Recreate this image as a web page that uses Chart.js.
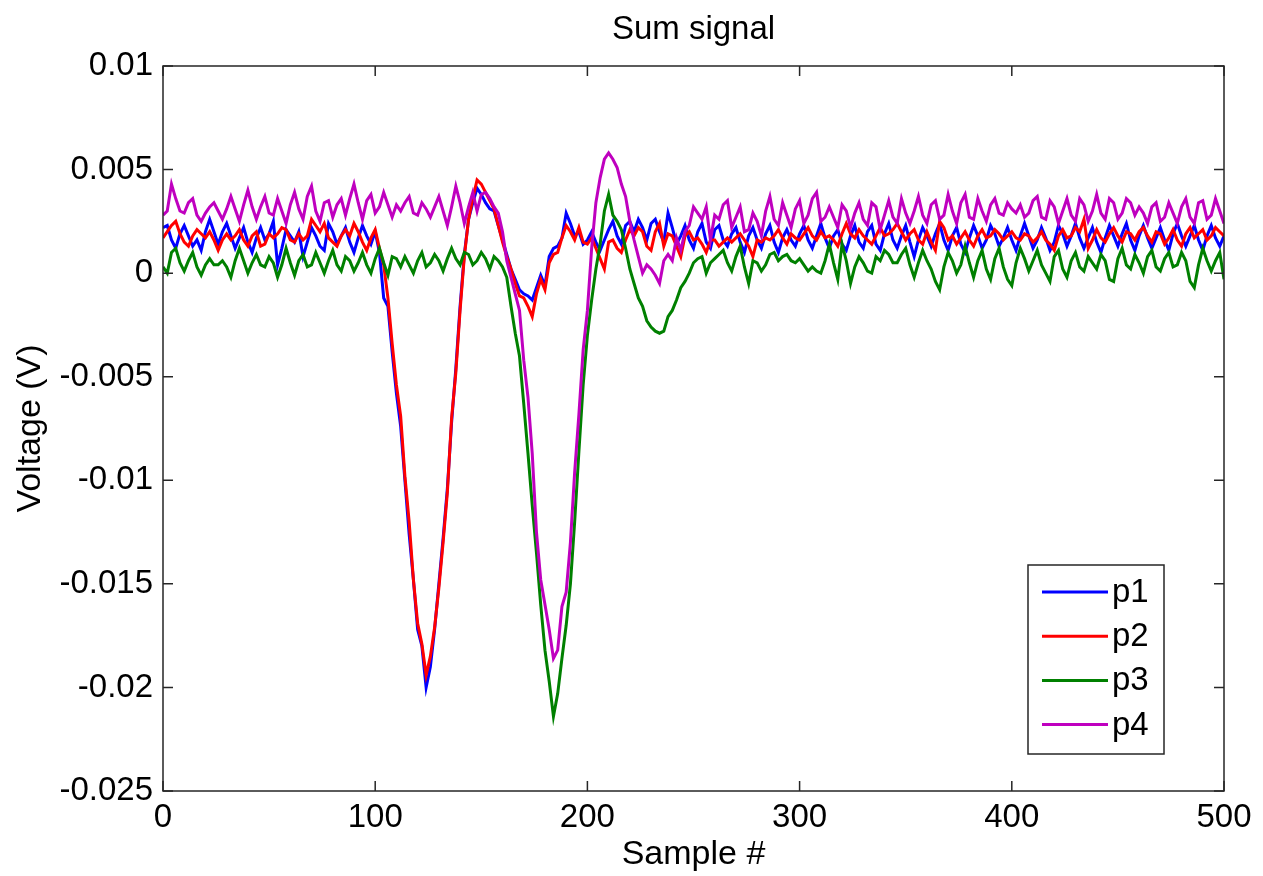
<!DOCTYPE html>
<html><head><meta charset="utf-8">
<script src="https://cdn.jsdelivr.net/npm/chart.js@4.4.1/dist/chart.umd.min.js"></script>
<style>html,body{margin:0;padding:0;background:#fff}canvas{display:block}</style>
</head><body>
<canvas id="c" width="1263" height="876"></canvas>
<script>
// Sample spacing of the value arrays below (one value every 2 samples, samples 0..500)
const sampleStep = 2;
const xTickValues = [0, 100, 200, 300, 400, 500];
const yTickLabels = ['-0.025', '-0.02', '-0.015', '-0.01', '-0.005', '0', '0.005', '0.01'];
const seriesNames = ['p1', 'p2', 'p3', 'p4'];
const seriesColors = ['#0000ff', '#ff0000', '#008000', '#bf00bf'];

// values in millivolts
const p1 = [
  2.2, 2.3, 1.6, 1.2, 1.9, 2.3, 1.8, 1.3, 1.6, 1.1,
  2.0, 2.6, 2.0, 1.4, 2.0, 2.4, 1.8, 1.2, 1.7, 2.2,
  1.5, 1.0, 1.7, 2.2, 1.6, 1.9, 2.5, 0.4, 1.2, 2.1,
  1.8, 1.5, 2.0, 0.8, 1.5, 2.2, 1.8, 1.3, 1.1, 2.4,
  2.0, 1.4, 1.8, 2.2, 1.5, 1.0, 1.7, 2.3, 1.8, 1.4,
  2.0, 1.0, -1.2, -1.6, -3.8, -5.8, -7.4, -10.0, -12.6, -14.8,
  -17.2, -18.0, -20.0, -19.0, -17.2, -15.0, -12.8, -10.4, -7.2, -4.6,
  -1.6, 0.9, 2.6, 3.4, 4.1, 3.8, 3.4, 3.1, 3.0, 2.3,
  1.6, 0.9, 0.2, -0.3, -0.8, -1.0, -1.1, -1.3, -0.7, -0.1,
  -0.6, 0.8, 1.2, 1.3, 1.7, 2.9, 2.4, 1.8, 2.0, 1.4,
  1.6, 2.0, 1.5, 1.1, 1.6, 2.1, 2.5, 1.8, 1.4, 2.3,
  2.5, 2.0, 2.6, 2.2, 1.6, 2.4, 2.6, 2.0, 1.5, 2.9,
  2.2, 1.4, 1.8, 2.3, 1.6, 1.2, 2.0, 2.4, 1.5, 1.2,
  2.1, 2.3, 1.6, 1.3, 1.9, 2.2, 1.5, 1.0, 1.8, 2.2,
  1.6, 1.2, 1.9, 2.3, 1.5, 1.0, 1.7, 2.1, 1.6, 1.3,
  1.9, 2.3, 1.6, 1.2, 1.8, 2.4, 1.7, 1.2, 1.8, 2.1,
  1.4, 1.1, 1.8, 2.3, 1.5, 1.2, 2.0, 2.3, 1.4, 1.1,
  1.9, 2.4, 1.6, 1.2, 1.8, 2.3, 1.5, 0.8, 1.6, 2.2,
  1.8, 1.3, 1.9, 2.4, 1.6, 1.1, 1.8, 2.2, 1.4, 1.0,
  1.7, 2.3, 1.8, 1.2, 1.6, 2.3, 1.9, 1.3, 1.7, 2.2,
  1.6, 1.1, 1.8, 2.4, 1.8, 1.2, 1.6, 2.2, 1.7, 1.1,
  1.5, 2.3, 1.9, 1.3, 1.8, 2.4, 1.7, 1.2, 1.7, 2.2,
  1.5, 1.0, 1.7, 2.3, 1.8, 1.3, 1.9, 2.4, 1.6, 1.1,
  1.8, 2.3, 1.7, 1.2, 1.7, 2.2, 1.6, 1.1, 1.9, 2.4,
  1.8, 1.3, 1.8, 2.3, 1.6, 1.1, 1.8, 2.3, 1.7, 1.3,
  1.8
];
const p2 = [
  1.7, 2.0, 2.3, 2.5, 1.9, 1.5, 1.3, 1.8, 2.1, 1.9,
  1.7, 2.0, 1.6, 1.1, 1.6, 1.9, 1.6, 1.8, 2.1, 1.6,
  1.3, 1.8, 2.0, 1.3, 1.4, 1.9, 1.7, 1.9, 2.2, 2.1,
  1.6, 1.5, 1.9, 1.6, 1.8, 2.6, 2.3, 2.0, 2.4, 1.7,
  1.5, 1.3, 1.8, 2.1, 1.8, 2.4, 2.0, 1.5, 1.1, 1.7,
  2.1, 1.2, 0.4, -1.2, -3.4, -5.4, -6.9, -9.8, -12.0, -14.8,
  -16.9, -17.9, -19.4, -18.5, -17.1, -15.2, -13.0, -10.6, -7.0, -4.8,
  -1.8, 0.8, 2.6, 3.6, 4.5, 4.3, 3.9, 3.5, 3.1, 2.3,
  1.5, 0.8, 0.2, -0.5, -1.1, -1.2, -1.6, -2.1, -1.0, -0.3,
  -0.8, 0.5, 0.9, 1.0, 1.7, 2.3, 2.0, 1.6, 2.2, 1.5,
  1.4, 1.7, 1.2, 0.7, 0.2, 1.5, 1.6, 1.2, 1.0, 1.6,
  2.1, 1.8, 2.2, 2.0, 1.3, 1.1, 2.0, 2.4, 1.3, 1.9,
  1.8, 1.3, 0.8, 1.8, 2.0, 1.6, 1.7, 1.4, 1.0, 1.6,
  1.6, 1.3, 1.5, 1.7, 1.5, 1.7, 1.9, 1.6, 1.3, 0.8,
  1.6, 1.5, 1.7, 1.6, 1.8, 2.1, 1.7, 1.4, 1.9, 1.7,
  1.6, 1.9, 2.2, 1.8, 1.6, 2.0, 1.7, 1.8, 1.6, 1.3,
  1.9, 2.4, 1.9, 1.7, 2.1, 1.8, 1.6, 1.4, 1.8, 2.2,
  1.8, 1.9, 2.1, 2.4, 2.0, 1.6, 1.9, 2.1, 1.6, 1.4,
  2.0, 1.5, 1.1, 2.5, 2.2, 1.6, 1.8, 1.4, 1.7, 2.0,
  1.6, 1.3, 1.8, 2.1, 1.7, 1.8, 2.1, 1.9, 1.6, 1.8,
  2.0, 1.7, 1.6, 1.9, 1.8, 1.5, 1.7, 2.0, 1.6, 1.4,
  1.1, 1.8, 2.1, 1.7, 1.8, 2.2, 2.0, 2.6, 1.2, 1.6,
  2.1, 1.7, 1.5, 1.9, 2.2, 1.8, 1.5, 2.0, 1.9, 1.6,
  2.0, 2.2, 1.8, 1.5, 2.0, 1.9, 1.4, 1.7, 2.1, 1.6,
  1.3, 1.9, 2.2, 1.7, 1.9, 2.1, 1.6, 1.8, 2.2, 2.0,
  1.8
];
const p3 = [
  0.3, 0.0, 1.0, 1.2, 0.5, 0.1, 0.6, 1.0, 0.3, -0.1,
  0.4, 0.7, 0.4, 0.4, 0.6, 0.3, -0.2, 0.6, 1.2, 0.6,
  0.0, 0.5, 0.9, 0.4, 0.3, 0.8, 0.5, -0.2, 0.4, 1.2,
  0.5, -0.1, 0.6, 0.9, 0.3, 0.4, 1.0, 0.5, 0.0, 0.6,
  1.1, 0.4, 0.1, 0.8, 0.6, 0.1, 0.5, 1.0, 0.4, 0.0,
  0.7, 1.2, 0.5, -0.1, 0.8, 0.7, 0.3, 0.8, 0.4, 0.0,
  0.6, 1.0, 0.3, 0.5, 0.9, 0.6, 0.1, 0.7, 1.2, 0.7,
  0.4, 1.0, 0.9, 0.4, 0.6, 1.0, 0.7, 0.2, 0.8, 0.6,
  0.3, -0.2, -1.6, -2.9, -4.0, -6.3, -8.7, -11.2, -13.5, -16.0,
  -18.2, -19.7, -21.4, -20.3, -18.6, -17.0, -15.0, -12.0, -8.6, -5.4,
  -3.0, -1.3, 0.2, 1.4, 3.0, 3.8, 2.8, 2.5, 2.1, 1.2,
  0.2, -0.5, -1.2, -1.6, -2.3, -2.6, -2.8, -2.9, -2.8, -2.1,
  -1.8, -1.3, -0.7, -0.4, 0.0, 0.5, 0.7, 0.8, 0.0, 0.5,
  0.7, 0.9, 1.1, 0.5, 0.1, 0.8, 1.3, 0.3, -0.5, 0.6,
  0.5, 0.1, 0.4, 0.9, 1.0, 0.6, 0.8, 0.9, 0.6, 0.5,
  0.7, 0.4, 0.1, 0.3, 0.1, 0.0, 0.6, 1.4, 0.5, -0.3,
  1.4, 0.6, -0.5, 0.3, 0.8, 0.5, 0.1, 0.0, 0.8, 0.6,
  1.1, 0.9, 0.5, 0.5, 0.9, 1.2, 0.4, -0.2, 0.5, 1.1,
  0.6, 0.2, -0.4, -0.8, 0.3, 1.0, 0.6, 0.0, 0.4, 1.3,
  0.5, -0.2, 0.6, 1.1, 0.2, -0.3, 0.7, 1.2, 0.3, -0.3,
  -0.6, 0.5, 1.2, 0.7, 0.1, 0.6, 1.1, 0.4, 0.0, -0.4,
  0.8, 1.1, 0.2, -0.2, 0.6, 1.0, 0.3, 0.1, 0.8, 0.5,
  0.2, 0.9, 0.6, -0.3, -0.4, 0.7, 1.2, 0.4, 0.2, 0.9,
  0.5, 0.0, 0.8, 1.1, 0.3, 0.1, 0.7, 1.0, 0.3, 0.4,
  1.0, 0.6, -0.4, -0.7, 0.4, 1.2, 0.6, 0.1, 0.6, 1.0,
  -0.3
];
const p4 = [
  2.8, 3.0, 4.3, 3.6, 3.0, 2.9, 3.4, 3.6, 2.8, 2.5,
  2.9, 3.2, 3.4, 3.0, 2.6, 3.1, 3.7, 3.1, 2.5, 3.3,
  4.0, 3.2, 2.6, 3.2, 3.7, 2.9, 2.8, 3.6, 3.0, 2.4,
  3.3, 3.9, 3.1, 2.6, 3.7, 4.2, 3.0, 2.5, 3.4, 3.5,
  2.7, 3.3, 3.6, 2.8, 3.6, 4.3, 3.4, 2.6, 3.5, 3.8,
  2.9, 3.2, 3.9, 3.3, 2.7, 3.3, 3.0, 3.4, 3.7, 2.9,
  2.8, 3.4, 3.1, 2.7, 3.2, 3.7, 3.0, 2.3, 3.2, 4.2,
  3.4, 2.4, 3.2, 3.9, 3.0, 3.8, 3.9, 3.6, 3.2, 2.9,
  2.0, 0.6, -0.2, -1.0, -1.8, -4.2, -6.0, -8.7, -12.5, -14.8,
  -16.0, -17.2, -18.6, -18.2, -16.1, -15.4, -13.0, -9.6, -6.8, -3.7,
  -1.8, 1.2, 3.4, 4.6, 5.5, 5.8, 5.5, 5.1, 4.3, 3.7,
  2.5, 1.6, 0.8, 0.0, 0.4, 0.2, -0.1, -0.5, 0.6, 0.9,
  0.6, 1.7, 1.1, 2.0, 2.3, 3.2, 2.9, 2.6, 3.2, 1.6,
  2.8, 2.6, 3.3, 3.5, 2.2, 2.7, 3.2, 2.0, 2.1, 2.9,
  2.5, 1.8, 3.0, 3.7, 2.6, 2.3, 3.4, 2.8, 2.2, 3.1,
  3.5, 2.4, 2.8, 3.6, 3.9, 2.5, 2.7, 3.2, 2.7, 2.2,
  3.3, 3.0, 2.2, 2.9, 3.4, 2.6, 2.3, 3.4, 3.2, 2.1,
  2.8, 3.5, 2.7, 2.4, 3.6, 2.9, 2.4, 3.0, 3.7, 2.8,
  2.4, 3.3, 3.5, 2.6, 2.8, 3.8, 3.0, 2.4, 3.4, 3.8,
  2.7, 2.6, 3.6, 3.0, 2.5, 3.3, 3.6, 2.9, 2.8, 3.4,
  3.1, 2.9, 3.3, 2.7, 2.9, 3.5, 3.7, 2.7, 2.6, 3.5,
  3.2, 2.4, 3.0, 3.6, 2.8, 2.5, 3.6, 3.3, 2.5, 3.0,
  3.8, 2.9, 2.6, 3.6, 3.4, 2.6, 2.9, 3.6, 3.4, 2.8,
  3.2, 2.9, 2.4, 3.2, 3.4, 2.5, 2.7, 3.4, 2.9, 2.4,
  3.2, 3.6, 2.7, 2.4, 3.4, 3.5, 2.6, 2.8, 3.6, 3.0,
  2.4
];

const FONT = "'Liberation Sans', Arial, Helvetica, sans-serif";
const seriesData = [p1, p2, p3, p4];

function toPoints(arr) {
  return arr.map((mv, i) => ({ x: i * sampleStep, y: mv / 1000 }));
}

const LINE_W = 3;

const datasets = seriesData.map((arr, k) => ({
  label: seriesNames[k],
  data: toPoints(arr),
  borderColor: seriesColors[k],
  backgroundColor: seriesColors[k],
  borderWidth: LINE_W,
  pointRadius: 0,
  tension: 0,
  fill: false,
  order: seriesData.length - k
}));

const matlabFrame = {
  id: 'matlabFrame',
  afterDraw(chart) {
    const ctx = chart.ctx;
    const ca = chart.chartArea;
    const xs = chart.scales.x, ys = chart.scales.y;
    ctx.save();
    ctx.strokeStyle = '#262626';
    ctx.lineWidth = 1.5;
    ctx.strokeRect(ca.left, ca.top, ca.right - ca.left, ca.bottom - ca.top);
    const tl = 10;
    ctx.beginPath();
    xs.ticks.forEach(t => {
      const px = xs.getPixelForValue(t.value);
      ctx.moveTo(px, ca.bottom); ctx.lineTo(px, ca.bottom - tl);
      ctx.moveTo(px, ca.top); ctx.lineTo(px, ca.top + tl);
    });
    ys.ticks.forEach(t => {
      const py = ys.getPixelForValue(t.value);
      ctx.moveTo(ca.left, py); ctx.lineTo(ca.left + tl, py);
      ctx.moveTo(ca.right, py); ctx.lineTo(ca.right - tl, py);
    });
    ctx.stroke();

    // legend box (inside lower right of the axes)
    const w = 136, h = 189;
    const bx = ca.right - 60 - w, by = ca.bottom - 37 - h;
    ctx.fillStyle = '#ffffff';
    ctx.fillRect(bx, by, w, h);
    ctx.strokeStyle = '#262626';
    ctx.lineWidth = 1.5;
    ctx.strokeRect(bx, by, w, h);
    ctx.font = '33px ' + FONT;
    ctx.textBaseline = 'middle';
    ctx.textAlign = 'left';
    chart.data.datasets.forEach((ds, i) => {
      const cy = by + 27 + i * 44.2;
      ctx.strokeStyle = ds.borderColor;
      ctx.lineWidth = LINE_W;
      ctx.beginPath();
      ctx.moveTo(bx + 14, cy); ctx.lineTo(bx + 80, cy);
      ctx.stroke();
      ctx.fillStyle = '#000';
      ctx.fillText(ds.label, bx + 84, cy + 1);
    });
    ctx.restore();
  }
};

new Chart(document.getElementById('c'), {
  type: 'line',
  data: { datasets },
  options: {
    responsive: false,
    animation: false,
    events: [],
    layout: { padding: { left: 0, right: 39, top: 0, bottom: 0 }, autoPadding: false },
    plugins: {
      legend: { display: false },
      tooltip: { enabled: false },
      title: {
        display: true,
        fullSize: false,
        text: 'Sum signal',
        color: '#000',
        font: { family: FONT, size: 33, weight: 'normal' },
        padding: { top: 10, bottom: 16.4 }
      }
    },
    scales: {
      x: {
        type: 'linear',
        min: 0, max: 500,
        afterBuildTicks: (scale) => { scale.ticks = xTickValues.map(v => ({ value: v })); },
        afterFit: (scale) => { scale.height = 85; },
        grid: { display: false, drawTicks: false },
        border: { display: false },
        ticks: {
          color: '#000',
          padding: 7,
          maxRotation: 0,
          font: { family: FONT, size: 33 },
          callback: (v) => String(v)
        },
        title: {
          display: true,
          text: 'Sample #',
          color: '#000',
          font: { family: FONT, size: 34 },
          padding: { top: 0, bottom: 1 }
        }
      },
      y: {
        type: 'linear',
        min: -0.025, max: 0.01,
        afterBuildTicks: (scale) => { scale.ticks = yTickLabels.map(s => ({ value: parseFloat(s) })); },
        afterFit: (scale) => { scale.width = 163; },
        grid: { display: false, drawTicks: false },
        border: { display: false },
        ticks: {
          color: '#000',
          padding: 10,
          font: { family: FONT, size: 33 },
          callback: (v, i) => yTickLabels[i]
        },
        title: {
          display: true,
          text: 'Voltage (V)',
          color: '#000',
          font: { family: FONT, size: 34 },
          padding: { top: 10, bottom: 0 }
        }
      }
    }
  },
  plugins: [matlabFrame]
});
</script>
</body></html>
